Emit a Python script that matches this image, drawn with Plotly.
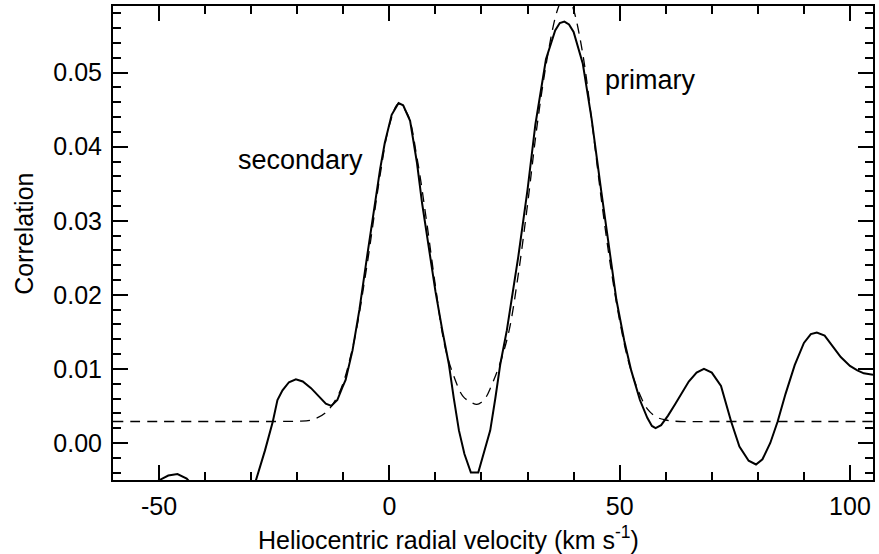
import plotly.graph_objects as go

# Cross-correlation function (solid) and two-Gaussian fit (dashed)
ccf_velocity = [-60, -56, -52, -49.9, -48, -46, -44, -42, -39, -36, -33, -31, -29, -27,
                -25.3, -24.3, -23.2, -21.8, -20.3, -18.8, -17, -15, -13.8, -12.6, -11.3,
                -10.2, -9.5, -8, -6.5, -5, -3.2, -2, -1, 0.5, 2, 3, 4.5, 6, 7.1, 8, 10,
                11.5, 12.9, 14, 15.1, 16.3, 17.7, 19.3, 20.5, 21.9, 23, 24.1, 25.5, 28,
                30, 31.7, 34, 36, 37, 38, 39, 40, 42, 43.9, 46, 48, 49.3, 51, 52.5, 54.4,
                56, 57, 57.8, 59, 60.5, 62, 63.5, 65, 66.7, 68.3, 70, 72, 74.2, 76, 78,
                79.6, 81, 82.7, 84.3, 86, 88, 90, 91.5, 92.8, 94.5, 96, 98, 100, 101.6,
                103, 105]
ccf_value = [-0.0120, -0.0085, -0.0058, -0.0050, -0.0044, -0.0042, -0.0048, -0.0062,
             -0.0095, -0.0120, -0.0115, -0.0088, -0.0051, -0.0010, 0.0029, 0.0058,
             0.0071, 0.0082, 0.0086, 0.0083, 0.0074, 0.0061, 0.0053, 0.0050, 0.0058,
             0.0075, 0.0085, 0.0125, 0.0180, 0.0245, 0.0324, 0.0370, 0.0405, 0.0443,
             0.0459, 0.0456, 0.0435, 0.0378, 0.0324, 0.0287, 0.0205, 0.0152, 0.0107,
             0.0060, 0.0017, -0.0015, -0.0040, -0.0040, -0.0015, 0.0017, 0.0060,
             0.0107, 0.0152, 0.0252, 0.0342, 0.0430, 0.0518, 0.0557, 0.0567, 0.0569,
             0.0565, 0.0555, 0.0512, 0.0438, 0.0340, 0.0248, 0.0193, 0.0138, 0.0098,
             0.0058, 0.0034, 0.0023, 0.0020, 0.0024, 0.0037, 0.0052, 0.0068, 0.0083,
             0.0095, 0.0100, 0.0095, 0.0077, 0.0029, -0.0005, -0.0024, -0.0029,
             -0.0022, 0.0000, 0.0029, 0.0066, 0.0105, 0.0135, 0.0147, 0.0149, 0.0145,
             0.0133, 0.0116, 0.0104, 0.0098, 0.0094, 0.0092]

fit_velocity = [-60, -30, -24, -20, -17, -14, -11, -8, -5, -2, 0, 2, 4, 6, 8, 10, 12,
                14, 16, 18, 19, 20, 21, 22, 24, 26, 28, 30, 32, 34, 36, 37, 38, 39, 40,
                42, 44, 46, 48, 50, 52, 54, 56, 58, 60, 63, 70, 105]
fit_value = [0.0029, 0.0029, 0.0029, 0.00294, 0.0031, 0.0040, 0.0066, 0.0128, 0.0234,
             0.0362, 0.0429, 0.0458, 0.0443, 0.0385, 0.0303, 0.0212, 0.0132, 0.0090,
             0.0063, 0.0054, 0.0052, 0.0055, 0.0062, 0.0075, 0.0107, 0.0152, 0.0228,
             0.0322, 0.0425, 0.0510, 0.0574, 0.0593, 0.0603, 0.0600, 0.0585, 0.0525,
             0.0432, 0.0330, 0.0240, 0.0165, 0.0108, 0.0071, 0.0046, 0.0035, 0.0031,
             0.0029, 0.0029, 0.0029]

x_ticks = [-50, 0, 50, 100]
y_ticks = [0.00, 0.01, 0.02, 0.03, 0.04, 0.05]

FONT = "Liberation Sans, Arial, Helvetica, sans-serif"

fig = go.Figure()
fig.add_trace(go.Scatter(x=fit_velocity, y=fit_value, mode="lines",
                         line=dict(color="black", width=1.3, dash="10px,7px"),
                         line_shape="spline", showlegend=False))
fig.add_trace(go.Scatter(x=ccf_velocity, y=ccf_value, mode="lines",
                         line=dict(color="black", width=2), showlegend=False))

fig.add_annotation(x=-19.3, y=0.0382, text="secondary", showarrow=False,
                   font=dict(family=FONT, size=27, color="black"))
fig.add_annotation(x=56.6, y=0.0490, text="primary", showarrow=False,
                   font=dict(family=FONT, size=27, color="black"))

# axis titles
fig.add_annotation(xref="paper", yref="paper", x=0.442, y=-0.122,
                   xanchor="center", yanchor="middle",
                   text="Heliocentric radial velocity (km s<sup>-1</sup>)",
                   showarrow=False, font=dict(family=FONT, size=25, color="black"))
fig.add_annotation(xref="paper", yref="paper", x=-0.118, y=0.52, textangle=-90,
                   xanchor="center", yanchor="middle",
                   text="Correlation", showarrow=False,
                   font=dict(family=FONT, size=25, color="black"))

axis_common = dict(showgrid=False, zeroline=False, showline=True, linecolor="black",
                   linewidth=2, mirror="ticks", ticks="inside", ticklen=15,
                   tickwidth=2, tickcolor="black",
                   tickfont=dict(family=FONT, size=25, color="black"))

fig.update_xaxes(range=[-60, 105], tickvals=x_ticks,
                 ticktext=[str(v) for v in x_ticks], ticklabelstandoff=3,
                 minor=dict(dtick=10, tick0=0, ticks="inside", ticklen=8,
                            tickwidth=1.5, tickcolor="black"),
                 **axis_common)
fig.update_yaxes(range=[-0.005, 0.059], tickvals=y_ticks,
                 ticktext=[f"{v:.2f}" for v in y_ticks], ticklabelstandoff=4,
                 minor=dict(dtick=0.002, tick0=0, ticks="inside", ticklen=8,
                            tickwidth=1.5, tickcolor="black"),
                 **axis_common)

fig.update_layout(width=879, height=554, margin=dict(l=113, r=4, t=5, b=74),
                  plot_bgcolor="white", paper_bgcolor="white",
                  font=dict(family=FONT, color="black"))

fig.write_html("out.html")
